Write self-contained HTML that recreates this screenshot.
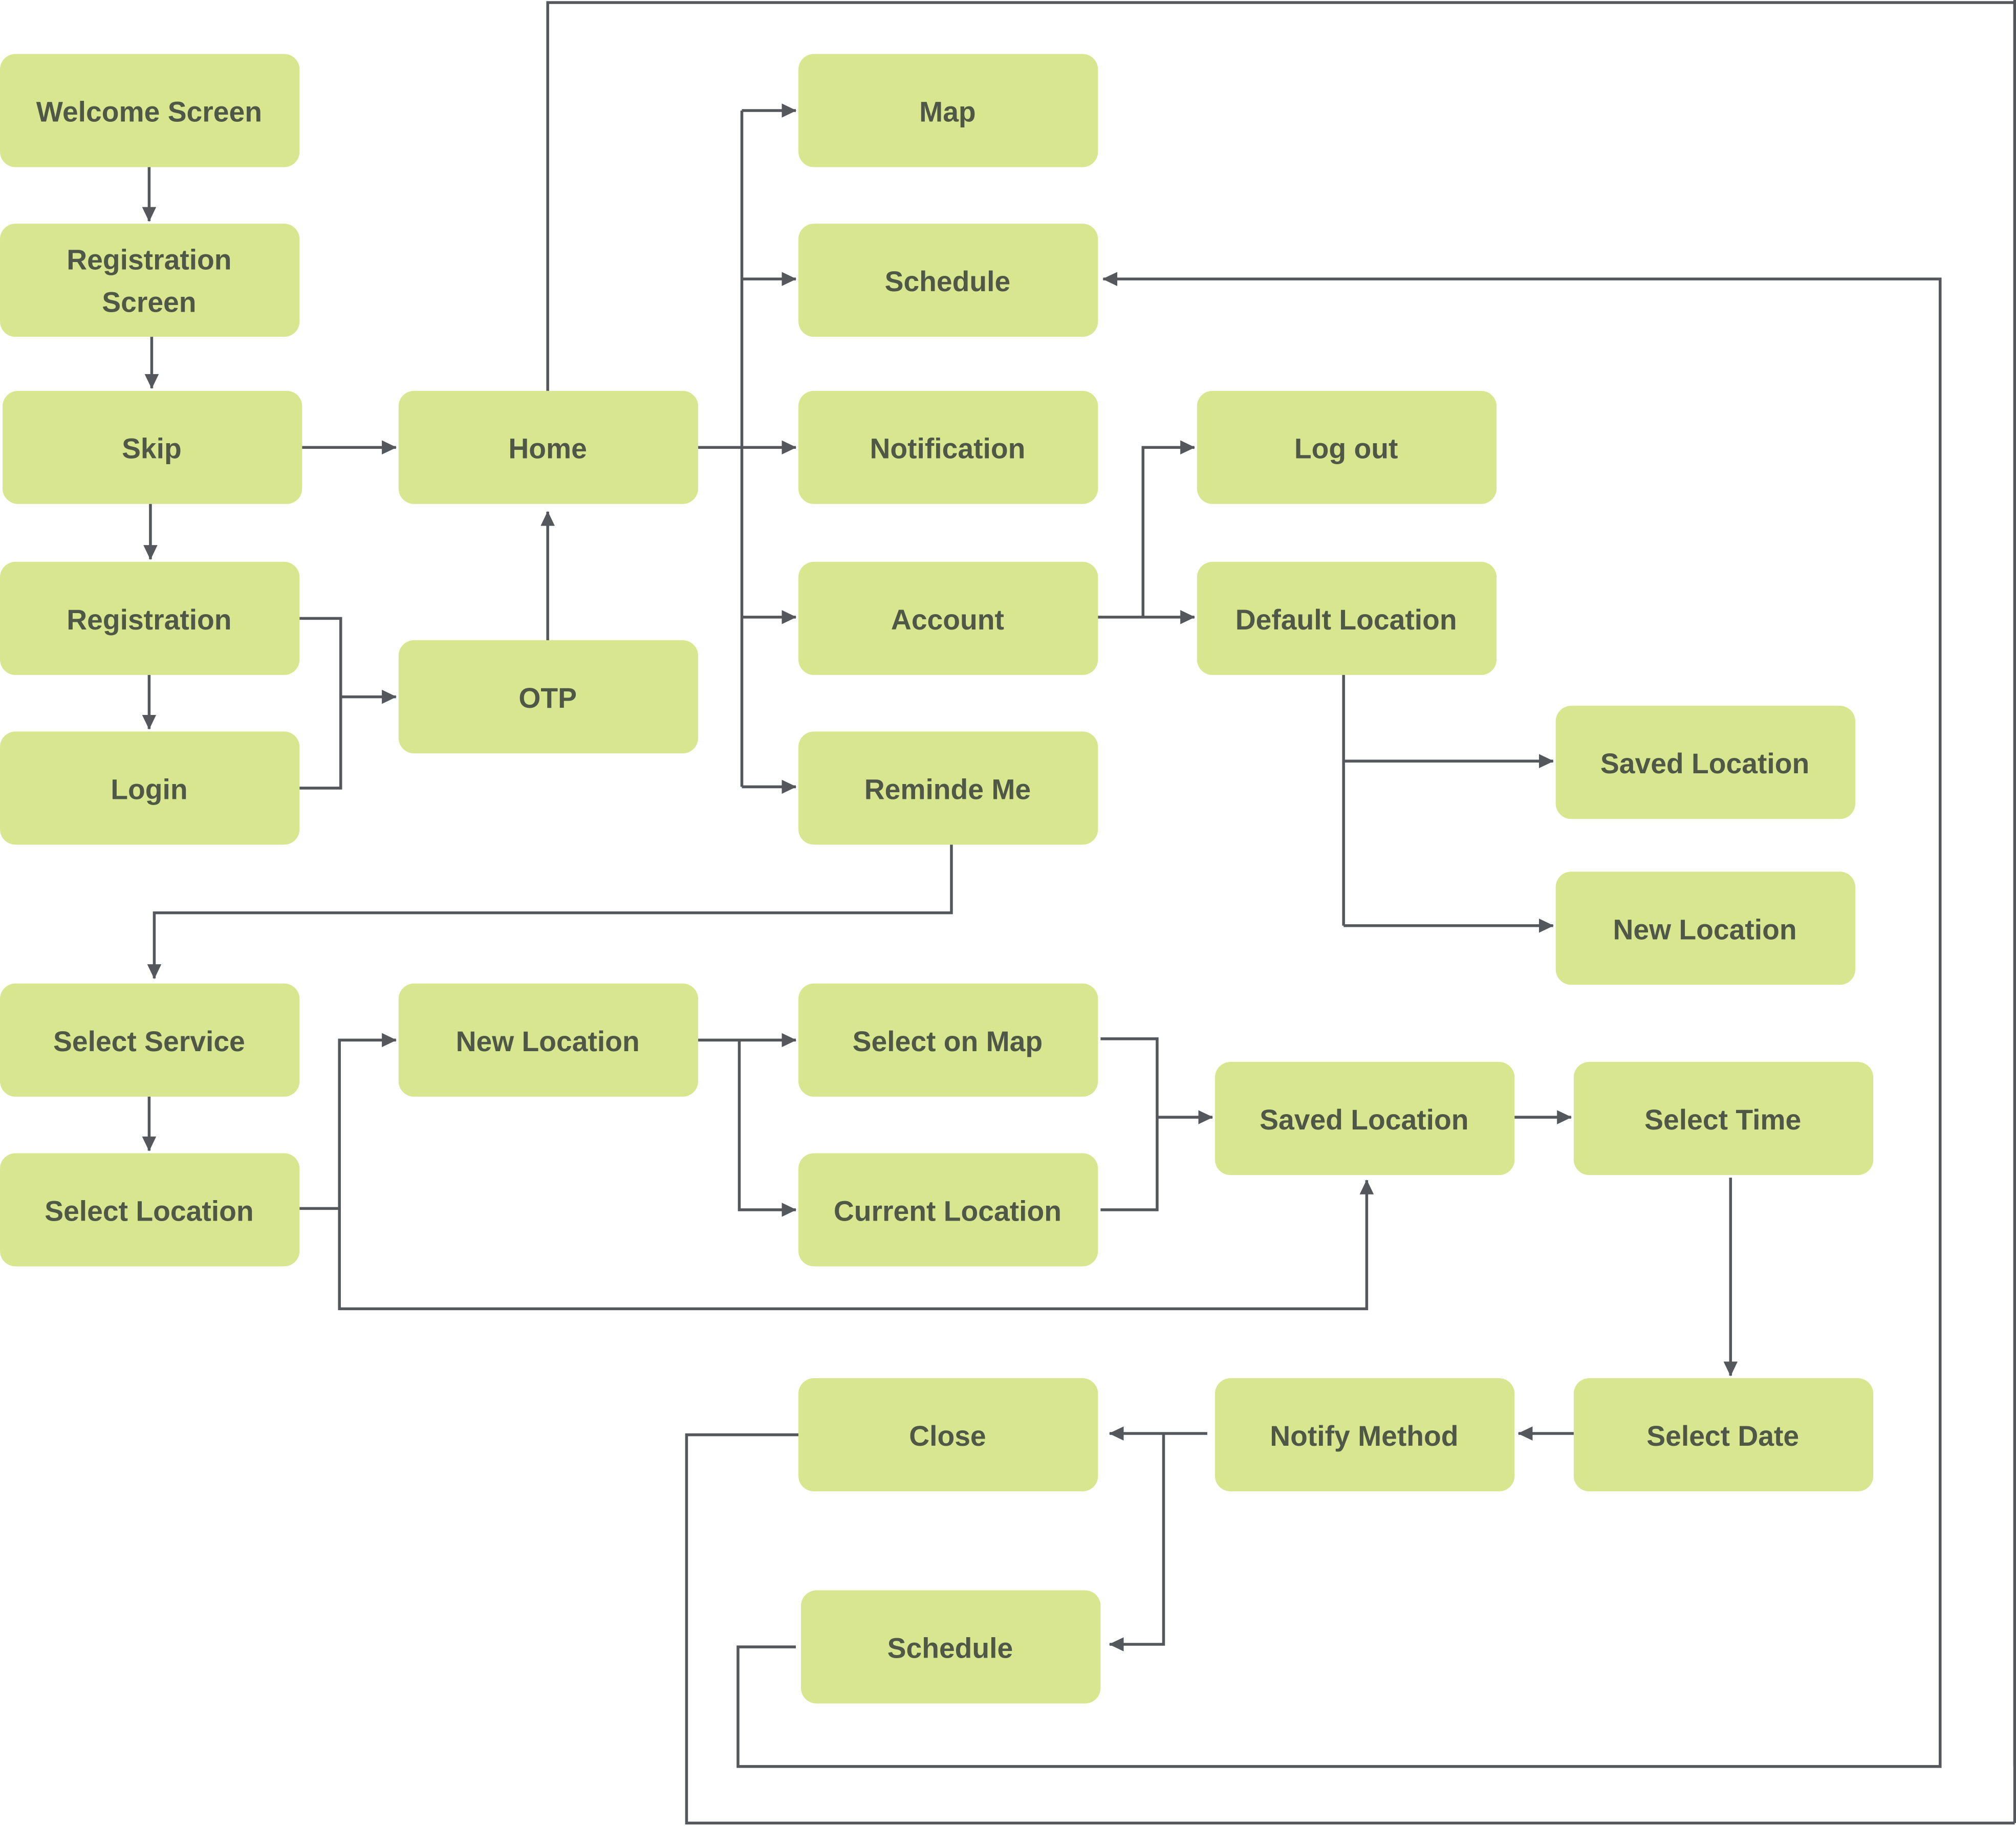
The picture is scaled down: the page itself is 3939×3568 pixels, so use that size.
<!DOCTYPE html>
<html><head><meta charset="utf-8"><style>
html,body{margin:0;padding:0;background:#fff;}
svg{display:block;}
text{font-family:"Liberation Sans",sans-serif;font-weight:bold;font-size:22px;fill:#4f5746;text-anchor:middle;dominant-baseline:central;}
</style></head><body>
<svg width="3939" height="3568" viewBox="0 0 1568 1420.3" preserveAspectRatio="none" xmlns="http://www.w3.org/2000/svg">
<defs>
<marker id="a" markerWidth="12" markerHeight="12" refX="11" refY="6" orient="auto" markerUnits="userSpaceOnUse">
<path d="M0,0.5 L11.5,6 L0,11.5 Z" fill="#54585c"/>
</marker>
</defs>
<g fill="#d9e690">
<rect x="0" y="42" width="233" height="88" rx="12"/>
<rect x="0" y="174" width="233" height="88" rx="12"/>
<rect x="2" y="304" width="233" height="88" rx="12"/>
<rect x="0" y="437" width="233" height="88" rx="12"/>
<rect x="0" y="569" width="233" height="88" rx="12"/>
<rect x="310" y="304" width="233" height="88" rx="12"/>
<rect x="310" y="498" width="233" height="88" rx="12"/>
<rect x="621" y="42" width="233" height="88" rx="12"/>
<rect x="621" y="174" width="233" height="88" rx="12"/>
<rect x="621" y="304" width="233" height="88" rx="12"/>
<rect x="621" y="437" width="233" height="88" rx="12"/>
<rect x="621" y="569" width="233" height="88" rx="12"/>
<rect x="931" y="304" width="233" height="88" rx="12"/>
<rect x="931" y="437" width="233" height="88" rx="12"/>
<rect x="1210" y="549" width="233" height="88" rx="12"/>
<rect x="1210" y="678" width="233" height="88" rx="12"/>
<rect x="0" y="765" width="233" height="88" rx="12"/>
<rect x="0" y="897" width="233" height="88" rx="12"/>
<rect x="310" y="765" width="233" height="88" rx="12"/>
<rect x="621" y="765" width="233" height="88" rx="12"/>
<rect x="621" y="897" width="233" height="88" rx="12"/>
<rect x="945" y="826" width="233" height="88" rx="12"/>
<rect x="1224" y="826" width="233" height="88" rx="12"/>
<rect x="621" y="1072" width="233" height="88" rx="12"/>
<rect x="945" y="1072" width="233" height="88" rx="12"/>
<rect x="1224" y="1072" width="233" height="88" rx="12"/>
<rect x="623" y="1237" width="233" height="88" rx="12"/>
</g>
<g>
<text x="116" y="87">Welcome Screen</text>
<text x="116" y="202">Registration</text>
<text x="116" y="235">Screen</text>
<text x="118" y="349">Skip</text>
<text x="116" y="482">Registration</text>
<text x="116" y="614">Login</text>
<text x="426" y="349">Home</text>
<text x="426" y="543">OTP</text>
<text x="737" y="87">Map</text>
<text x="737" y="219">Schedule</text>
<text x="737" y="349">Notification</text>
<text x="737" y="482">Account</text>
<text x="737" y="614">Reminde Me</text>
<text x="1047" y="349">Log out</text>
<text x="1047" y="482">Default Location</text>
<text x="1326" y="594">Saved Location</text>
<text x="1326" y="723">New Location</text>
<text x="116" y="810">Select Service</text>
<text x="116" y="942">Select Location</text>
<text x="426" y="810">New Location</text>
<text x="737" y="810">Select on Map</text>
<text x="737" y="942">Current Location</text>
<text x="1061" y="871">Saved Location</text>
<text x="1340" y="871">Select Time</text>
<text x="737" y="1117">Close</text>
<text x="1061" y="1117">Notify Method</text>
<text x="1340" y="1117">Select Date</text>
<text x="739" y="1282">Schedule</text>
</g>
<g stroke="#54585c" stroke-width="2.2" fill="none">
<path d="M116 130 V172" marker-end="url(#a)"/>
<path d="M118 262 V302" marker-end="url(#a)"/>
<path d="M117 392 V435" marker-end="url(#a)"/>
<path d="M116 525 V567" marker-end="url(#a)"/>
<path d="M235 348 H308" marker-end="url(#a)"/>
<path d="M233 481 H265 V613 H233"/>
<path d="M265 542 H308" marker-end="url(#a)"/>
<path d="M426 498 V398" marker-end="url(#a)"/>
<path d="M543 348 H619" marker-end="url(#a)"/>
<path d="M577 86 V612"/>
<path d="M577 86 H619" marker-end="url(#a)"/>
<path d="M577 217 H619" marker-end="url(#a)"/>
<path d="M577 480 H619" marker-end="url(#a)"/>
<path d="M577 612 H619" marker-end="url(#a)"/>
<path d="M426 304 V2 H1567 V1374"/>
<path d="M854 480 H929" marker-end="url(#a)"/>
<path d="M889 480 V348 H929" marker-end="url(#a)"/>
<path d="M1045 525 V720"/>
<path d="M1045 592 H1208" marker-end="url(#a)"/>
<path d="M1045 720 H1208" marker-end="url(#a)"/>
<path d="M740 657 V710 H120 V761" marker-end="url(#a)"/>
<path d="M116 853 V895" marker-end="url(#a)"/>
<path d="M233 940 H264 V809 H308" marker-end="url(#a)"/>
<path d="M264 940 V1018 H1063 V918" marker-end="url(#a)"/>
<path d="M543 809 H619" marker-end="url(#a)"/>
<path d="M575 809 V941 H619" marker-end="url(#a)"/>
<path d="M856 808 H900 V941 H856"/>
<path d="M900 869 H943" marker-end="url(#a)"/>
<path d="M1178 869 H1222" marker-end="url(#a)"/>
<path d="M1346 916 V1070" marker-end="url(#a)"/>
<path d="M1224 1115 H1181" marker-end="url(#a)"/>
<path d="M939 1115 H863" marker-end="url(#a)"/>
<path d="M905 1115 V1279 H863" marker-end="url(#a)"/>
<path d="M621 1116 H534 V1418 H1567"/>
<path d="M1567 0 V1418"/>
<path d="M619 1281 H574 V1374 H1509 V217 H858" marker-end="url(#a)"/>
</g>
</svg>
</body></html>
